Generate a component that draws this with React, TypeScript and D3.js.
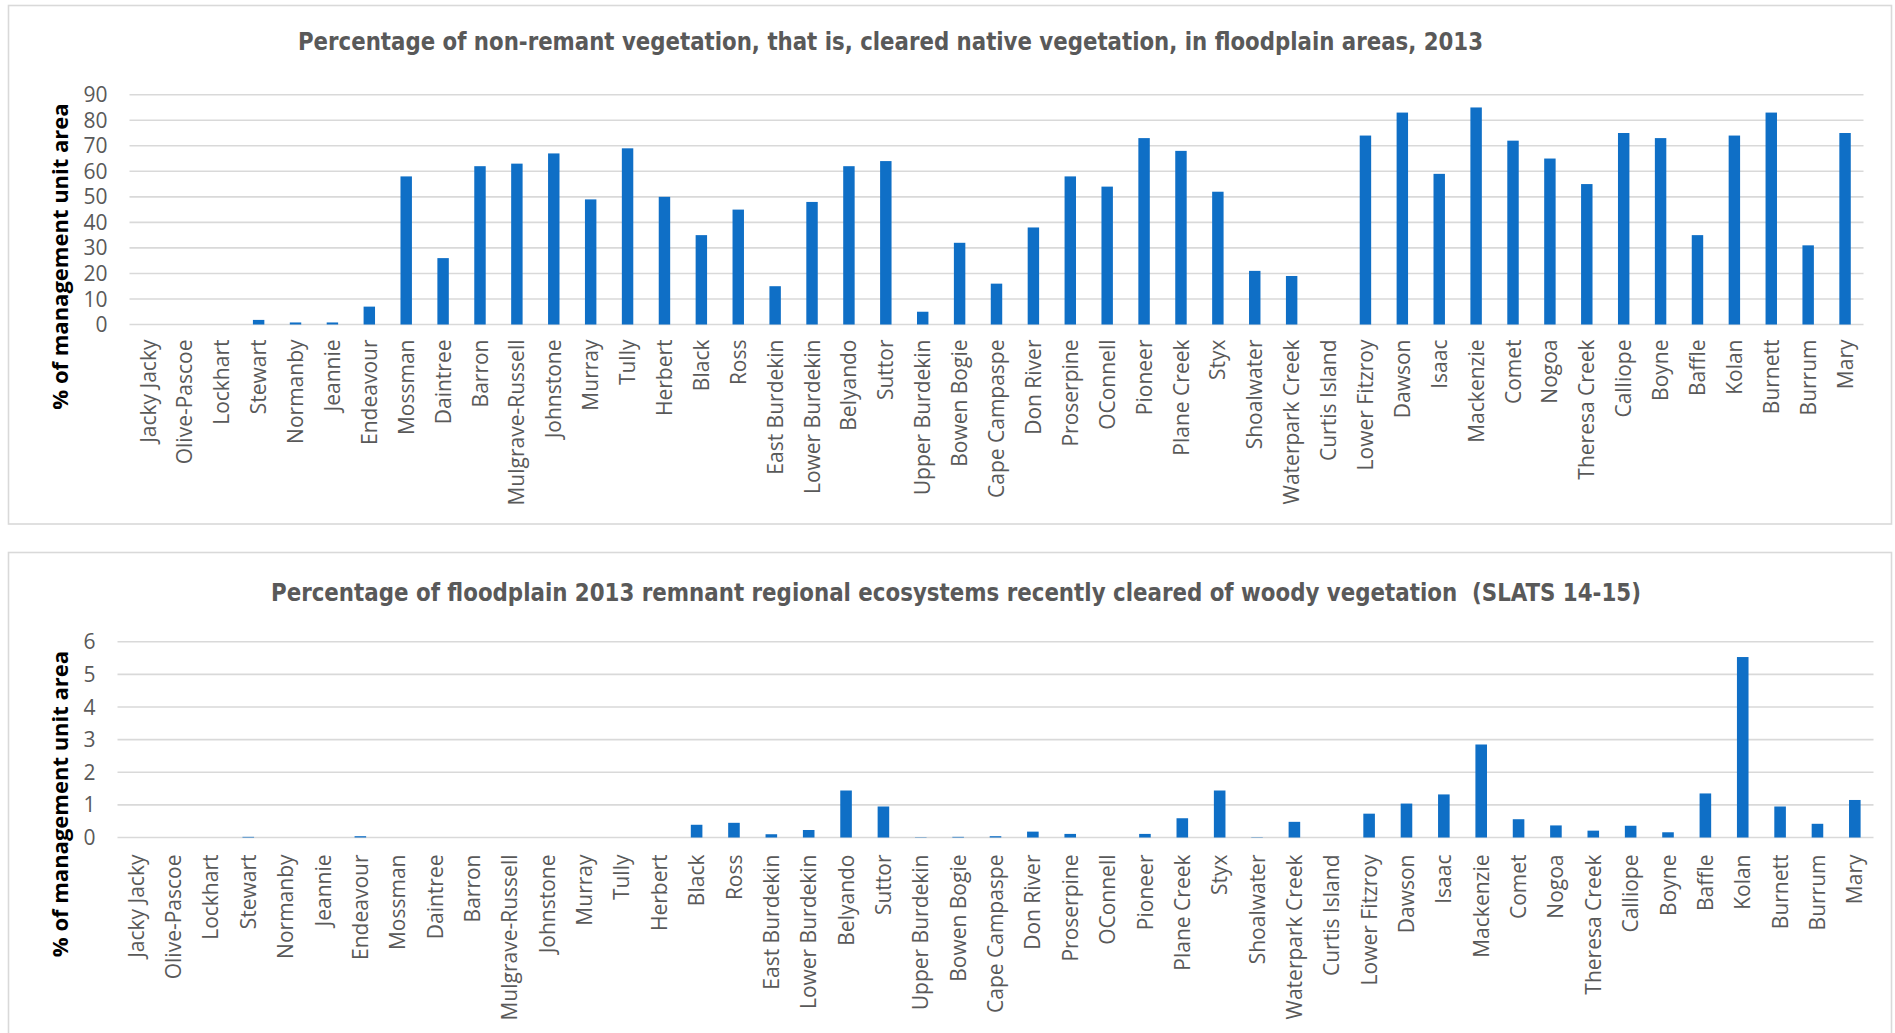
import React from "react";
import * as d3 from "d3";

const categories = [
  "Jacky Jacky", "Olive-Pascoe", "Lockhart", "Stewart", "Normanby", "Jeannie", "Endeavour",
  "Mossman", "Daintree", "Barron", "Mulgrave-Russell", "Johnstone", "Murray", "Tully", "Herbert",
  "Black", "Ross", "East Burdekin", "Lower Burdekin", "Belyando", "Suttor", "Upper Burdekin",
  "Bowen Bogie", "Cape Campaspe", "Don River", "Proserpine", "OConnell", "Pioneer", "Plane Creek",
  "Styx", "Shoalwater", "Waterpark Creek", "Curtis Island", "Lower Fitzroy", "Dawson", "Isaac",
  "Mackenzie", "Comet", "Nogoa", "Theresa Creek", "Calliope", "Boyne", "Baffle", "Kolan",
  "Burnett", "Burrum", "Mary",
];

const nonRemnantPct = [
  0, 0, 0, 1.8, 0.8, 0.8, 7,
  58, 26, 62, 63, 67, 49, 69, 50,
  35, 45, 15, 48, 62, 64, 5,
  32, 16, 38, 58, 54, 73, 68,
  52, 21, 19, 0, 74, 83, 59,
  85, 72, 65, 55, 75, 73, 35, 74,
  83, 31, 75,
];

const recentlyClearedPct = [
  0, 0, 0, 0.02, 0, 0, 0.04,
  0, 0, 0, 0, 0, 0, 0, 0,
  0.39, 0.45, 0.1, 0.23, 1.44, 0.95, 0.01,
  0.02, 0.04, 0.18, 0.11, 0, 0.11, 0.59,
  1.44, 0.01, 0.48, 0, 0.73, 1.04, 1.32,
  2.85, 0.56, 0.37, 0.21, 0.36, 0.16, 1.35, 5.53,
  0.95, 0.42, 1.15,
];

const topTicks = [0, 10, 20, 30, 40, 50, 60, 70, 80, 90];
const bottomTicks = [0, 1, 2, 3, 4, 5, 6];

const topTitle =
  "Percentage of non-remant vegetation, that is, cleared native vegetation, in floodplain areas, 2013";
const bottomTitle =
  "Percentage of floodplain 2013 remnant regional ecosystems recently cleared of woody vegetation  (SLATS 14-15)";
const yAxisTitle = "% of management unit area";

const BAR = "#0f6fc6";
const GRID = "#d9d9d9";
const TEXT = "#595959";

type PanelProps = {
  values: number[];
  ticks: number[];
  title: string;
  titleX: number;
  titleY: number;
  titleLen: number;
  left: number;
  right: number;
  y0: number;
  yTop: number;
  yTitleX: number;
  yTitleY: number;
  labelGap: number;
};

function Panel(p: PanelProps) {
  const pad = 0.69;
  const x = d3
    .scaleBand<string>()
    .domain(categories)
    .range([p.left, p.right])
    .paddingInner(pad)
    .paddingOuter(pad / 2);
  const maxTick = p.ticks[p.ticks.length - 1];
  const y = d3.scaleLinear().domain([0, maxTick]).range([p.y0, p.yTop]);
  const bw = x.bandwidth();
  return (
    <g>
      <text
        x={p.titleX}
        y={p.titleY}
        textLength={p.titleLen}
        lengthAdjust="spacingAndGlyphs"
        fontFamily="'Liberation Sans Narrow', 'DejaVu Sans Condensed', Roboto, sans-serif"
        fontWeight="bold"
        fontSize={25}
        fill={TEXT}
        style={{ whiteSpace: "pre" }}
      >
        {p.title}
      </text>
      {p.ticks.map((t) => (
        <g key={t}>
          <line x1={p.left} x2={p.right} y1={y(t)} y2={y(t)} stroke={GRID} strokeWidth={1.6} />
          <text
            x={p.left - 22}
            y={y(t)}
            dy="0.36em"
            textAnchor="end"
            fontFamily="'Open Sans', sans-serif"
            fontSize={21}
            fill={TEXT}
          >
            {t}
          </text>
        </g>
      ))}
      {categories.map((c, i) => {
        const v = p.values[i];
        const yy = y(v);
        return (
          <g key={c}>
            {v > 0 && <rect x={x(c)} y={yy} width={bw} height={p.y0 - yy} fill={BAR} />}
            <text
              transform={`translate(${(x(c) as number) + bw / 2},${p.y0 + p.labelGap}) rotate(-90)`}
              dy="0.36em"
              textAnchor="end"
              fontFamily="'Open Sans', sans-serif"
              fontSize={21}
              fill={TEXT}
            >
              {c}
            </text>
          </g>
        );
      })}
      <text
        transform={`translate(${p.yTitleX},${p.yTitleY}) rotate(-90)`}
        textAnchor="middle"
        fontFamily="'Open Sans', sans-serif"
        fontWeight="bold"
        fontSize={22}
        fill="#000"
      >
        {yAxisTitle}
      </text>
    </g>
  );
}

export default function App() {
  return (
    <svg
      width={1895}
      height={1033}
      style={{ position: "absolute", left: 0, top: 0, background: "#fff" }}
    >
      <rect x={0} y={0} width={1895} height={1033} fill="#fff" />
      <rect x={8.5} y={5.5} width={1883} height={518.5} fill="#fff" stroke={GRID} strokeWidth={1.6} />
      <rect x={8.5} y={552.5} width={1883} height={520} fill="#fff" stroke={GRID} strokeWidth={1.6} />
      <Panel
        values={nonRemnantPct}
        ticks={topTicks}
        title={topTitle}
        titleX={298}
        titleY={50}
        titleLen={1185}
        left={129.5}
        right={1863.5}
        y0={324.5}
        yTop={94.7}
        yTitleX={68}
        yTitleY={256.5}
        labelGap={15}
      />
      <Panel
        values={recentlyClearedPct}
        ticks={bottomTicks}
        title={bottomTitle}
        titleX={271}
        titleY={601}
        titleLen={1370}
        left={117.5}
        right={1873.5}
        y0={837.5}
        yTop={641.7}
        yTitleX={68}
        yTitleY={804}
        labelGap={17}
      />
    </svg>
  );
}
